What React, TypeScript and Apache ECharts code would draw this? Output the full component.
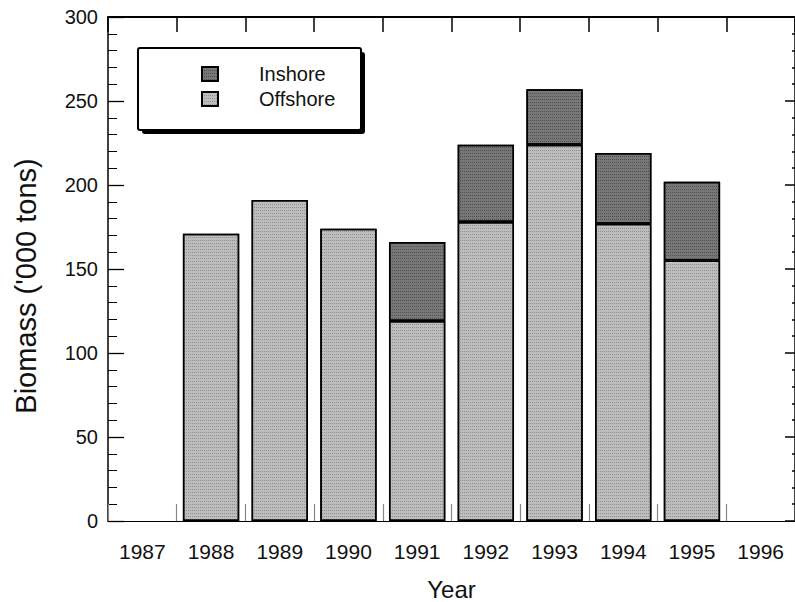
import React, { useEffect, useRef } from "react";
import * as echarts from "echarts";

const years = ["1987", "1988", "1989", "1990", "1991", "1992", "1993", "1994", "1995", "1996"];
const offshore = [null, 171, 191, 174, 119, 178, 224, 177, 155, null];
const inshore = [null, null, null, null, 47, 46, 33, 42, 47, null];
const yTicks = { min: 0, max: 300, interval: 50 };

const FONT = "'Liberation Sans', Arial, Helvetica, sans-serif";

export default function App() {
  const ref = useRef<HTMLDivElement>(null);
  useEffect(() => {
    if (!ref.current) return;
    const chart = echarts.init(ref.current, undefined, { renderer: "svg" });
    chart.setOption({
      animation: false,
      backgroundColor: "#ffffff",
      textStyle: { fontFamily: FONT },
      grid: { left: 108, top: 17, right: 0, bottom: 81, containLabel: false, outerBoundsMode: "none" },
      legend: {
        data: ["Inshore", "Offshore"],
        orient: "vertical",
        left: 196,
        top: 59,
        icon: "rect",
        itemWidth: 16,
        itemHeight: 14,
        itemGap: 5,
        textStyle: { fontFamily: FONT, fontSize: 20, color: "#111", padding: [0, 0, 0, 36], lineHeight: 20 },
        z: 10,
      },
      graphic: [
        { type: "rect", shape: { x: 142, y: 52, width: 223, height: 82, r: 3 }, style: { fill: "#000" }, z: 1 },
        { type: "rect", shape: { x: 138, y: 48, width: 223, height: 82, r: 2 }, style: { fill: "#fff", stroke: "#000", lineWidth: 2 }, z: 2 },
      ],
      xAxis: [
        {
          type: "category",
          data: years,
          position: "bottom",
          boundaryGap: true,
          axisLine: { show: true, onZero: false, lineStyle: { color: "#000", width: 1.2 } },
          axisTick: { show: true, interval: 0, inside: true, length: 17, lineStyle: { color: "#888", width: 1.2 } },
          axisLabel: { show: true, interval: 0, fontSize: 21, color: "#111", margin: 20, fontFamily: FONT },
          name: "Year",
          nameLocation: "middle",
          nameGap: 56,
          nameTextStyle: { fontSize: 24, color: "#111", fontFamily: FONT },
        },
        {
          type: "category",
          data: years,
          position: "top",
          boundaryGap: true,
          axisLine: { show: true, onZero: false, lineStyle: { color: "#000", width: 2 } },
          axisTick: { show: true, interval: 0, inside: true, length: 15, lineStyle: { color: "#000", width: 1.5 } },
          axisLabel: { show: false },
        },
      ],
      yAxis: [
        {
          type: "value",
          min: yTicks.min,
          max: yTicks.max,
          interval: yTicks.interval,
          position: "left",
          axisLine: { show: true, onZero: false, lineStyle: { color: "#000", width: 1.5 } },
          axisTick: { show: true, inside: true, length: 16, lineStyle: { color: "#000", width: 1.3 } },
          minorTick: { show: true, splitNumber: 5, length: 9, lineStyle: { color: "#000", width: 1 } },
          splitLine: { show: false },
          axisLabel: { fontSize: 20, color: "#111", margin: 10, fontFamily: FONT },
          name: "Biomass ('000 tons)",
          nameLocation: "middle",
          nameGap: 68,
          nameTextStyle: { fontSize: 29, color: "#111", fontFamily: FONT, padding: [0, 34, 0, 0] },
        },
        {
          type: "value",
          min: yTicks.min,
          max: yTicks.max,
          interval: yTicks.interval,
          position: "right",
          axisLine: { show: true, onZero: false, lineStyle: { color: "#000", width: 1.5 } },
          axisTick: { show: true, inside: true, length: 10, lineStyle: { color: "#000", width: 1.5 } },
          minorTick: { show: true, splitNumber: 5, length: 3, lineStyle: { color: "#000", width: 1.5 } },
          splitLine: { show: false },
          axisLabel: { show: false },
        },
      ],
      series: [
        {
          name: "Offshore",
          type: "bar",
          stack: "total",
          data: offshore,
          barWidth: "82%",
          itemStyle: {
            color: "#bdbdbd",
            borderColor: "#000",
            borderWidth: 1.5,
            decal: { symbol: "rect", symbolSize: 1, dashArrayX: [1, 1], dashArrayY: [1, 2], color: "rgba(60,60,60,0.35)" },
          },
        },
        {
          name: "Inshore",
          type: "bar",
          stack: "total",
          data: inshore,
          barWidth: "82%",
          itemStyle: {
            color: "#777777",
            borderColor: "#000",
            borderWidth: 1.5,
            decal: { symbol: "rect", symbolSize: 1, dashArrayX: [1, 1], dashArrayY: [1, 2], color: "rgba(20,20,20,0.4)" },
          },
        },
      ],
    });
    return () => chart.dispose();
  }, []);
  return <div ref={ref} style={{ width: 795, height: 602, position: "absolute", left: 0, top: 0 }} />;
}
